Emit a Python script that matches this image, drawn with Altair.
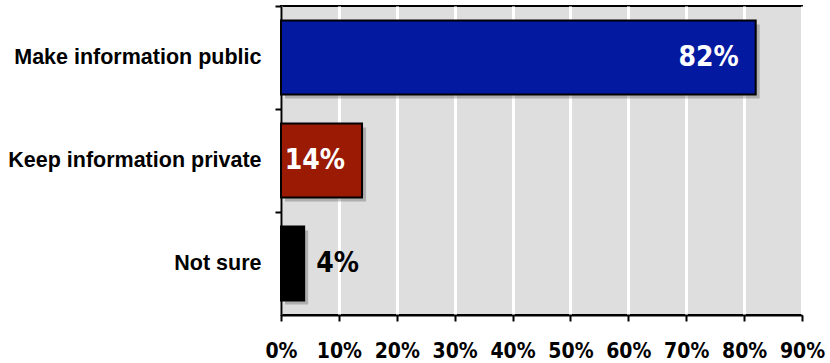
import altair as alt
import pandas as pd

categories = ["Make information public", "Keep information private", "Not sure"]
values = [82, 14, 4]
colors = ["#0319A0", "#9A1A03", "#000000"]
ticks = [0, 10, 20, 30, 40, 50, 60, 70, 80, 90]

df = pd.DataFrame({"cat": categories, "val": values, "color": colors,
                   "label": [f"{v}%" for v in values]})

FONT_N = "DejaVu Sans Condensed"

x = alt.X("val:Q", scale=alt.Scale(domain=[0, 90], nice=False),
          axis=alt.Axis(values=ticks, labelExpr="datum.value + '%'", title=None,
                        grid=True, gridColor="white", gridWidth=3,
                        domainColor="black", domainWidth=2, tickColor="black",
                        tickWidth=2, tickSize=6, labelFont=FONT_N,
                        labelFontSize=21, labelFontWeight="bold", labelColor="black",
                        labelPadding=19, labelFlush=False, labelOverlap=False))
y = alt.Y("cat:N", sort=categories,
          scale=alt.Scale(paddingInner=0, paddingOuter=0),
          axis=alt.Axis(title=None, bandPosition=0, domainColor="black", domainWidth=2,
                        tickColor="black", tickWidth=2, tickSize=6, labelFont="Liberation Sans",
                        labelFontSize=21.5, labelFontWeight="bold", labelColor="black",
                        labelPadding=14, labelLimit=0))

base = alt.Chart(df)

shadow = base.mark_bar(color="#555555", opacity=0.35, xOffset=4, yOffset=4, height=74).encode(x=x, y=y)
bars = base.mark_bar(stroke="black", strokeWidth=2, height=74).encode(
    x=x, y=y, color=alt.Color("color:N", scale=None))
inside = base.transform_filter("datum.val > 10").mark_text(
    align="right", dx=-17, color="white", font=FONT_N, fontSize=28, fontWeight="bold"
).encode(x=x, y=y, text="label:N")
outside = base.transform_filter("datum.val <= 10").mark_text(
    align="left", dx=12, color="black", font=FONT_N, fontSize=28, fontWeight="bold"
).encode(x=x, y=y, text="label:N")

chart = alt.layer(shadow, bars, inside, outside).properties(
    width=521, height=309,
    autosize=alt.AutoSizeParams(type="none"),
    padding={"left": 281, "top": 6, "right": 28, "bottom": 48},
    background="white",
).configure_view(fill="#DEDEDE", stroke="black", strokeWidth=2)

chart.save("out.html", embed_options={"renderer": "svg", "actions": False})
